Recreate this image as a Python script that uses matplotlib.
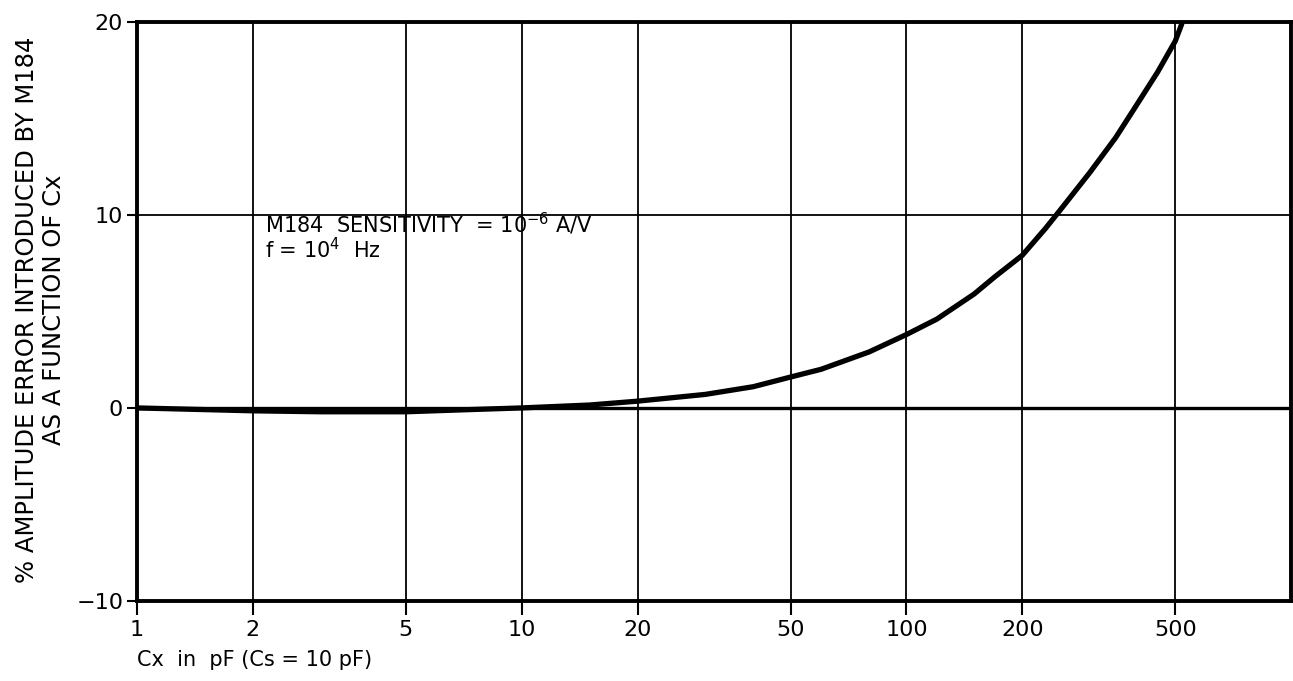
import matplotlib
matplotlib.use("Agg")
import matplotlib.pyplot as plt
from matplotlib.ticker import FixedLocator, FixedFormatter, NullLocator

# Data
cx_pf = [1, 2, 3, 5, 7, 10, 15, 20, 30, 40, 50, 60, 80, 100, 120, 150, 170, 200,
         230, 250, 300, 350, 400, 450, 500, 520]
error_pct = [0.0, -0.15, -0.2, -0.2, -0.1, 0.0, 0.15, 0.35, 0.7, 1.1, 1.6, 2.0, 2.9, 3.8,
             4.6, 5.9, 6.8, 7.9, 9.3, 10.2, 12.2, 14.0, 15.8, 17.4, 19.0, 19.9]

x_ticks = [1, 2, 5, 10, 20, 50, 100, 200, 500]
x_tick_labels = ["1", "2", "5", "10", "20", "50", "100", "200", "500"]
y_ticks = [-10, 0, 10, 20]
y_tick_labels = ["\u221210", "0", "10", "20"]

plt.rcParams['font.family'] = ['DejaVu Sans']

fig = plt.figure(figsize=(12.93, 6.81), dpi=100)
ax = fig.add_axes([0.106, 0.1175, 0.8925, 0.8505])

ax.set_xscale('log')
ax.set_xlim(1, 1000)
ax.set_ylim(-10, 20)

# grid
for xv in x_ticks:
    ax.axvline(xv, color='black', lw=1.3, zorder=1)
for yv in y_ticks:
    ax.axhline(yv, color='black', lw=2.4 if yv == 0 else 1.3, zorder=1)

ax.plot(cx_pf, error_pct, color='black', lw=3.8, solid_capstyle='round',
        solid_joinstyle='round', zorder=3, clip_on=True)

ax.xaxis.set_major_locator(FixedLocator(x_ticks))
ax.xaxis.set_major_formatter(FixedFormatter(x_tick_labels))
ax.xaxis.set_minor_locator(NullLocator())
ax.yaxis.set_major_locator(FixedLocator(y_ticks))
ax.yaxis.set_major_formatter(FixedFormatter(y_tick_labels))

ax.tick_params(axis='x', direction='out', length=10, width=1.5, labelsize=16, pad=4)
ax.tick_params(axis='y', direction='out', length=7, width=1.5, labelsize=16, pad=3)

for s in ax.spines.values():
    s.set_linewidth(2.8)

ax.text(0.0, -0.102, "Cx  in  pF (Cs = 10 pF)", transform=ax.transAxes,
        fontsize=15, ha='left', va='center')

fig.text(0.031, 0.545, "% AMPLITUDE ERROR INTRODUCED BY M184\nAS A FUNCTION OF Cx",
         rotation=90, ha='center', va='center', fontsize=17.5, linespacing=1.15)

ax.text(2.15, 8.9, "M184  SENSITIVITY  = 10$^{-6}$ A/V\nf = 10$^{4}$  Hz",
        fontsize=15, ha='left', va='center', linespacing=1.0)

fig.savefig("out.png", dpi=100)
